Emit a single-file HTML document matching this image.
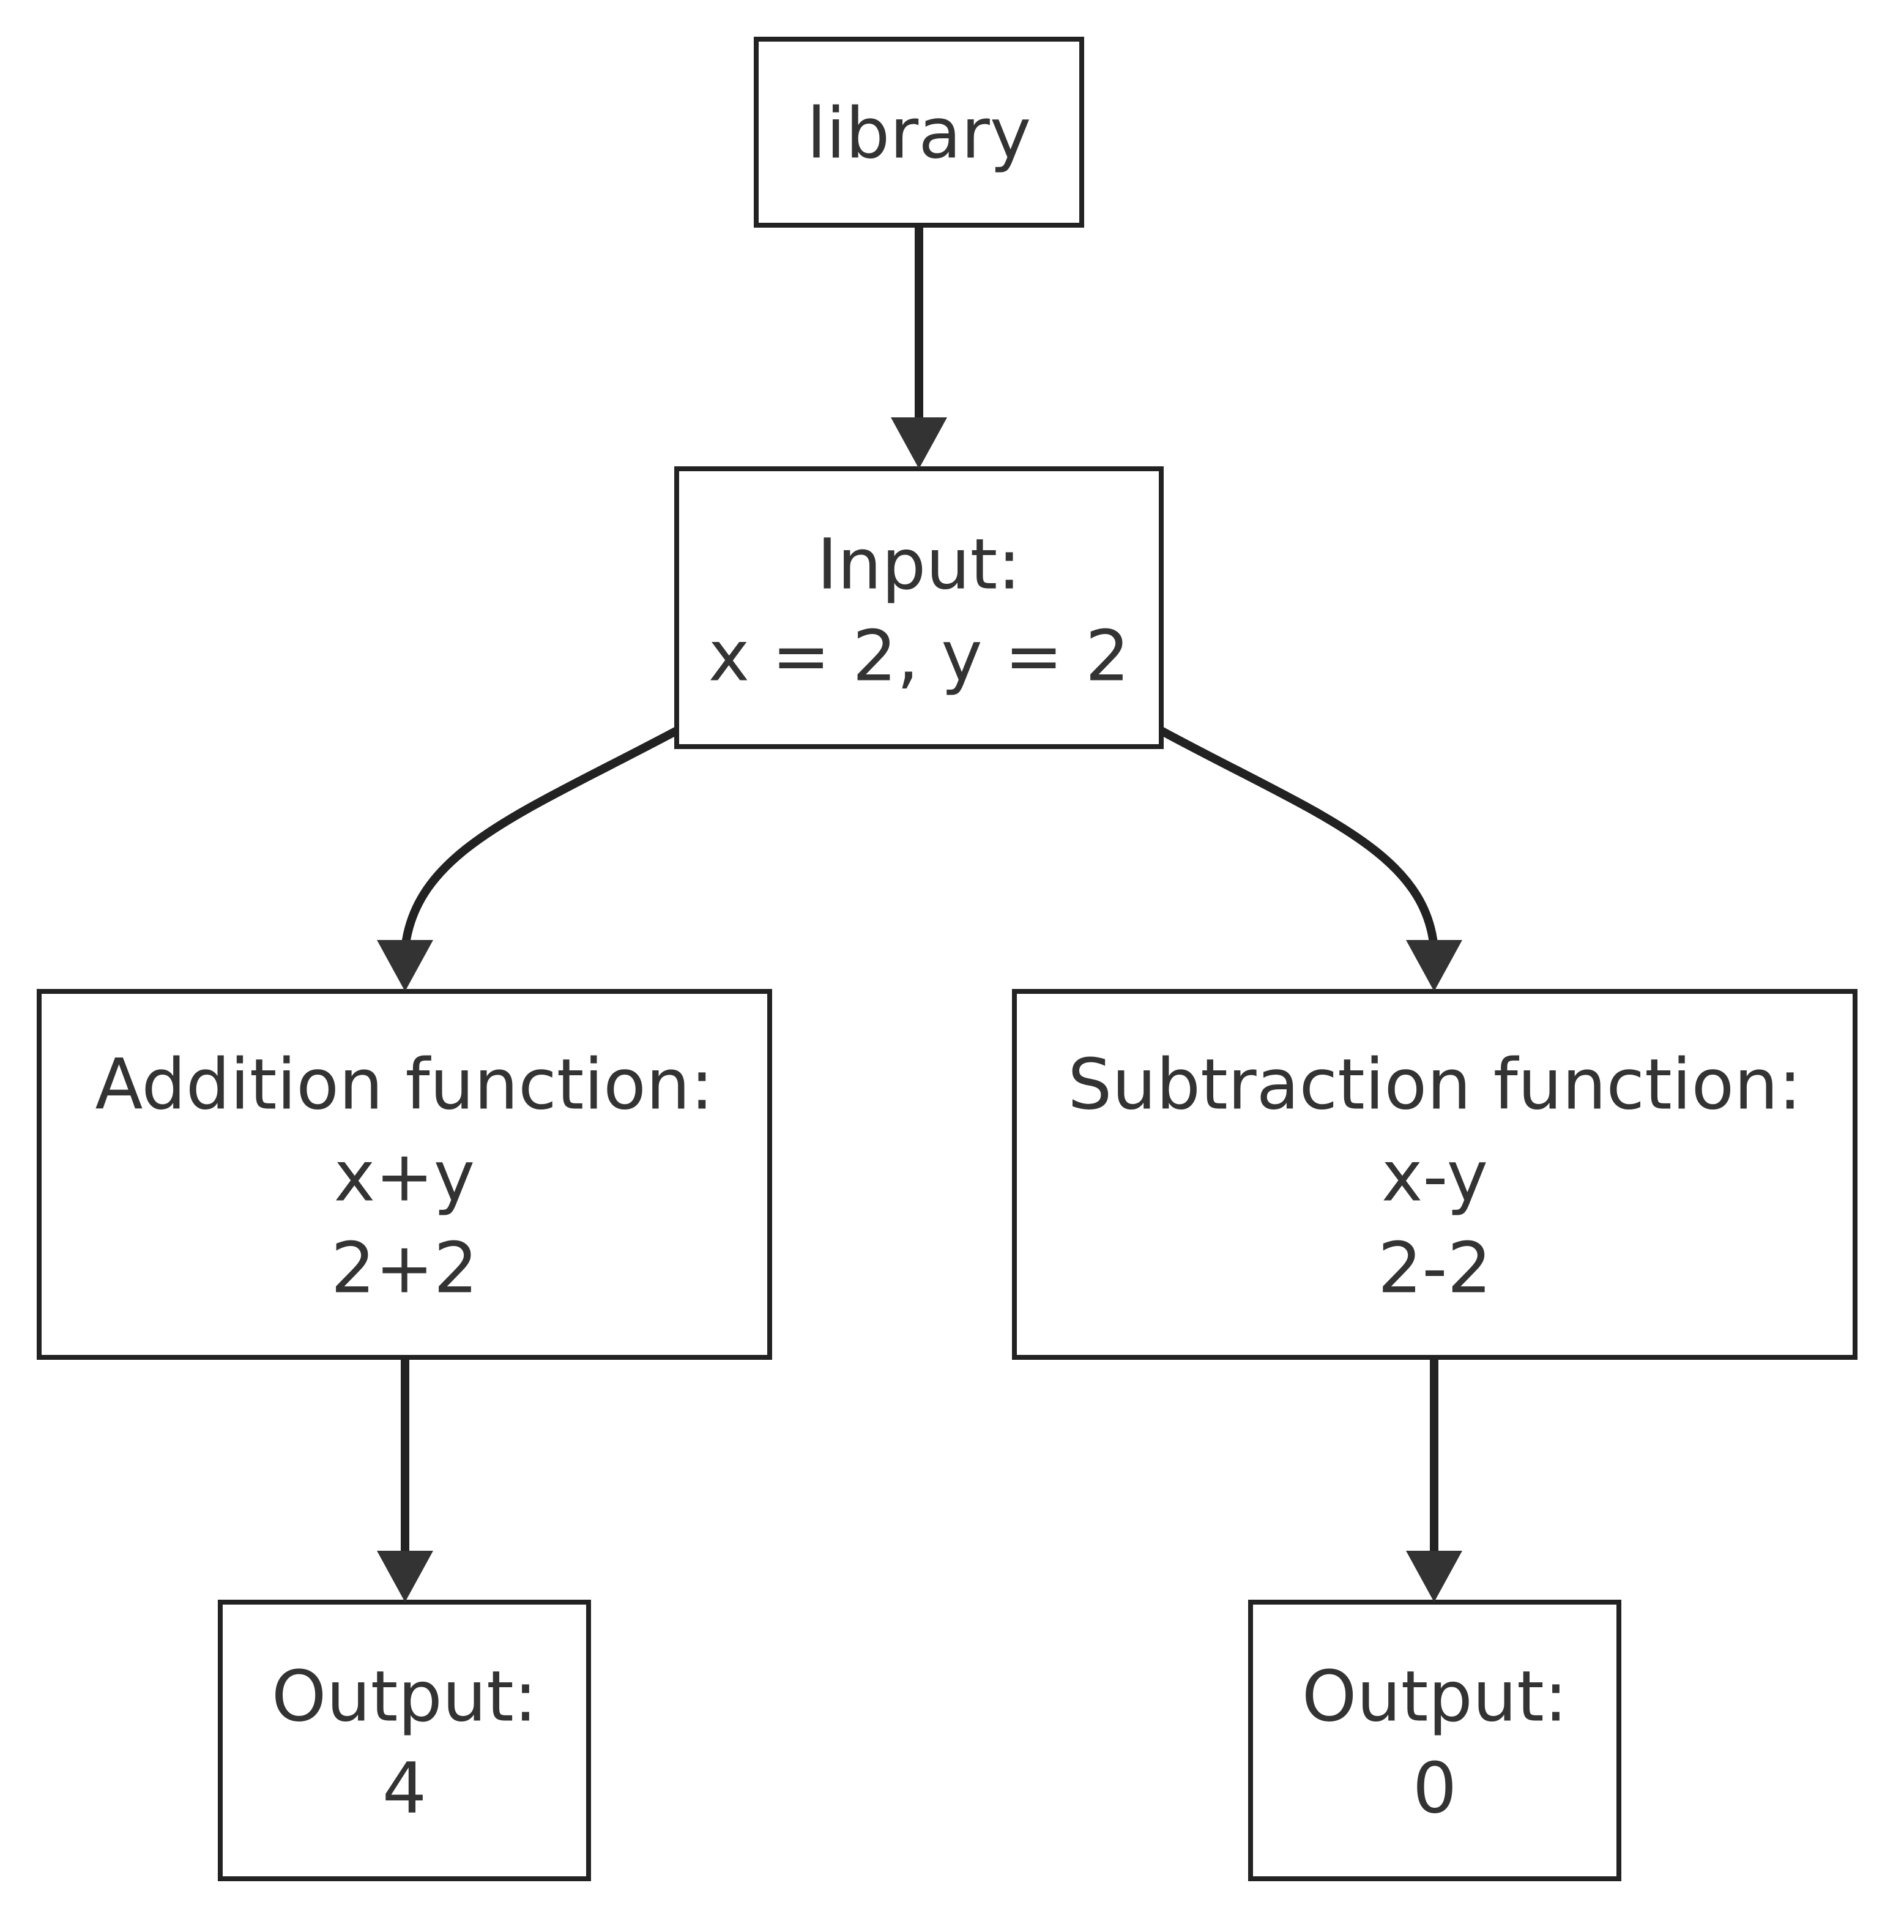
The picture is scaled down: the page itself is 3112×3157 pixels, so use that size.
<!DOCTYPE html>
<html><head><meta charset="utf-8"><style>
html,body{margin:0;padding:0;background:#fff;}
svg text{font-family:"DejaVu Sans","Liberation Sans",sans-serif;font-size:114px;fill:#333;text-anchor:middle;dominant-baseline:central;}
</style></head><body>
<svg width="3112" height="3152" viewBox="0 0 3112 3152" xmlns="http://www.w3.org/2000/svg">
<g fill="#fff" stroke="#222" stroke-width="8">
<rect x="1236" y="64" width="532" height="304"/>
<rect x="1106" y="766" width="792" height="454"/>
<rect x="64" y="1620" width="1194" height="598"/>
<rect x="1658" y="1620" width="1374" height="598"/>
<rect x="360" y="2618" width="602" height="452"/>
<rect x="2044" y="2618" width="602" height="452"/>
</g>
<g fill="none" stroke="#222" stroke-width="14">
<line x1="1502" y1="368" x2="1502" y2="700"/>
<path d="M1106,1194 C850,1330 680,1390 662,1550"/>
<path d="M1898,1194 C2150,1330 2330,1390 2344,1550"/>
<line x1="662" y1="2218" x2="662" y2="2550"/>
<line x1="2344" y1="2218" x2="2344" y2="2550"/>
</g>
<g fill="#333">
<polygon points="1456,682 1548,682 1502,766"/>
<polygon points="616,1536 708,1536 662,1620"/>
<polygon points="2298,1536 2390,1536 2344,1620"/>
<polygon points="616,2534 708,2534 662,2618"/>
<polygon points="2298,2534 2390,2534 2344,2618"/>
</g>
<text x="1502" y="218">library</text>
<text x="1502" y="922">Input:</text>
<text x="1502" y="1072">x = 2, y = 2</text>
<text x="661" y="1772">Addition function:</text>
<text x="661" y="1922">x+y</text>
<text x="661" y="2072">2+2</text>
<text x="2345" y="1772">Subtraction function:</text>
<text x="2345" y="1922">x-y</text>
<text x="2345" y="2072">2-2</text>
<text x="661" y="2772">Output:</text>
<text x="661" y="2922">4</text>
<text x="2345" y="2772">Output:</text>
<text x="2345" y="2922">0</text>
</svg>
</body></html>
